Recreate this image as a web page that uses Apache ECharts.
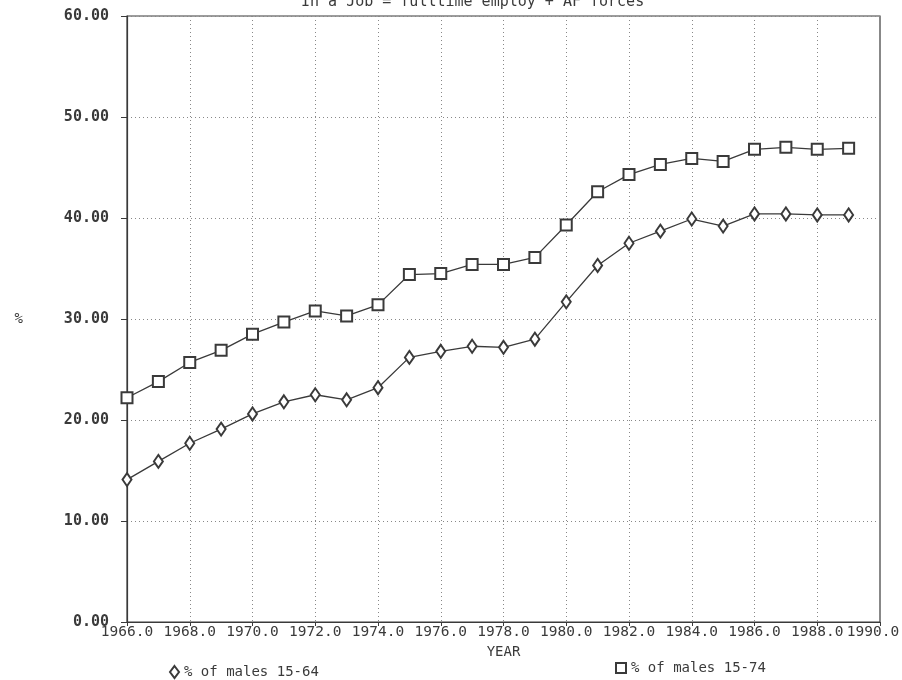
<!DOCTYPE html>
<html>
<head>
<meta charset="utf-8">
<script src="https://cdn.jsdelivr.net/npm/echarts@6/dist/echarts.min.js"></script>
<style>
    html, body { margin: 0; padding: 0; background: #fff; }
    #chart { width: 902px; height: 680px; }
</style>
</head>
<body>
<div id="chart"></div>
<script>
// values
const years = [1966, 1967, 1968, 1969, 1970, 1971, 1972, 1973, 1974, 1975, 1976, 1977,
    1978, 1979, 1980, 1981, 1982, 1983, 1984, 1985, 1986, 1987, 1988, 1989];
const males1564 = [14.1, 15.9, 17.7, 19.1, 20.6, 21.8, 22.5, 22.0, 23.2, 26.2, 26.8, 27.3,
    27.2, 28.0, 31.7, 35.3, 37.5, 38.7, 39.9, 39.2, 40.4, 40.4, 40.3, 40.3];
const males1574 = [22.2, 23.8, 25.7, 26.9, 28.5, 29.7, 30.8, 30.3, 31.4, 34.4, 34.5, 35.4,
    35.4, 36.1, 39.3, 42.6, 44.3, 45.3, 45.9, 45.6, 46.8, 47.0, 46.8, 46.9];
const seriesNames = ['% of males 15-64', '% of males 15-74'];

const ink = '#3a3a3a';
const mono = 'DejaVu Sans Mono';

function pairs(values) {
    return years.map((y, i) => [y, values[i]]);
}

const chart = echarts.init(document.getElementById('chart'), null, { renderer: 'canvas' });

chart.setOption({
    backgroundColor: '#fff',
    animation: false,
    title: {
        text: 'In a Job = fulltime employ + AF forces',
        left: 296,
        top: -10,
        textStyle: { fontFamily: mono, fontSize: 15, fontWeight: 'normal', color: ink },
    },
    grid: {
        left: 127, right: 22, top: 16, bottom: 58,
        outerBoundsMode: 'none',
        containLabel: false,
        show: true, borderColor: ink, borderWidth: 1.2,
    },
    legend: [
        {
            data: [{ name: seriesNames[0], icon: 'emptyDiamond' }],
            left: 164, top: 660,
            itemWidth: 9, itemHeight: 12, itemGap: 4,
            textStyle: { fontFamily: mono, fontSize: 14, color: ink },
            itemStyle: { color: ink, borderColor: ink, borderWidth: 1.2 },
        },
        {
            data: [{ name: seriesNames[1], icon: 'emptyRect' }],
            left: 610, top: 656,
            itemWidth: 10, itemHeight: 10,
            textStyle: { fontFamily: mono, fontSize: 14, color: ink },
            itemStyle: { color: ink, borderColor: ink, borderWidth: 1.2 },
        },
    ],
    xAxis: {
        type: 'value',
        min: 1966, max: 1990, interval: 2,
        name: 'YEAR',
        nameLocation: 'middle',
        nameGap: 22,
        nameTextStyle: { fontFamily: mono, fontSize: 14, color: ink },
        axisLine: { lineStyle: { color: ink, width: 1.2 } },
        axisTick: { show: true, length: 4, lineStyle: { color: ink } },
        axisLabel: {
            // the last label sits a little left so it stays inside the page
            formatter: v => v === 1990 ? '{last|' + v.toFixed(1) + '}' : v.toFixed(1),
            fontFamily: mono, fontSize: 14.5, color: ink, margin: 3,
            rich: {
                last: { fontFamily: mono, fontSize: 14.5, color: ink, padding: [0, 14, 0, 0] },
            },
        },
        splitLine: { show: true, lineStyle: { color: '#888', type: [1, 3], width: 1 } },
    },
    yAxis: {
        type: 'value',
        min: 0, max: 60, interval: 10,
        name: '%',
        nameLocation: 'middle',
        nameRotate: 0,
        nameGap: 104,
        nameTextStyle: { fontFamily: mono, fontSize: 14, color: ink },
        axisLine: { show: true, lineStyle: { color: ink, width: 1.2 } },
        axisTick: { show: true, inside: false, length: 6, lineStyle: { color: ink } },
        axisLabel: {
            formatter: v => v.toFixed(2),
            fontFamily: mono, fontSize: 15, color: ink, margin: 18,
            fontWeight: 'bold',
        },
        splitLine: { show: true, lineStyle: { color: '#888', type: [1, 3], width: 1 } },
    },
    series: [
        {
            name: seriesNames[0],
            type: 'line',
            data: pairs(males1564),
            symbol: 'emptyDiamond',
            symbolSize: [9, 13],
            lineStyle: { color: ink, width: 1.3 },
            itemStyle: { color: ink, borderColor: ink, borderWidth: 1.2 },
        },
        {
            name: seriesNames[1],
            type: 'line',
            data: pairs(males1574),
            symbol: 'emptyRect',
            symbolSize: 11,
            lineStyle: { color: ink, width: 1.3 },
            itemStyle: { color: ink, borderColor: ink, borderWidth: 1.2 },
        },
    ],
});
</script>
</body>
</html>
